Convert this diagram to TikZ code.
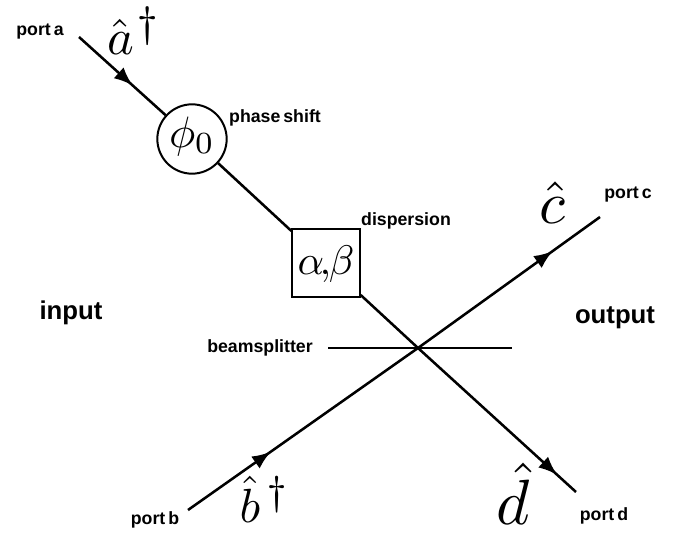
\documentclass[tikz,border=0pt]{standalone}
\usepackage{amsmath, amssymb}
\usepackage{fontspec}
\setsansfont{Liberation Sans}
\newfontfamily\portsans[WordSpace=0.6]{Liberation Sans}
\usetikzlibrary{arrows.meta, decorations.markings}
\newcommand{\bigdag}{\scalebox{1.2}{$\scriptstyle\dagger$}}
\tikzset{
  beam/.style={line width=1.9pt},
  beamin/.style={beam,postaction={decorate},decoration={markings,mark=at position #1 with {\arrow{Latex[length=14pt,width=11pt]}}}},
  portlabel/.style={font=\portsans\bfseries\fontsize{13.3}{15}\selectfont,inner sep=0pt},
  sidelabel/.style={font=\sffamily\bfseries\fontsize{19.3}{22}\selectfont,inner sep=0pt},
  symlabel/.style={inner sep=0pt,transform shape,scale=#1},
}
\begin{document}
\begin{tikzpicture}[x=0.75pt,y=-0.75pt]
  \useasboundingbox (0,0) rectangle (681,535);
  % Beam ends
  \coordinate (ina) at (79,37);
  \coordinate (inb) at (188,510);
  \coordinate (outc) at (600,217);
  \coordinate (outd) at (576,492);
  \coordinate (bsl) at (328,348);
  \coordinate (bsr) at (512,348);
  \coordinate (cross) at (418,348);
  \node[draw,circle,line width=1.5pt,minimum size=52pt,inner sep=0pt] (phase) at (192,139) {};
  \node[draw,rectangle,line width=1.5pt,minimum size=50.5pt,inner sep=0pt] (disp) at (326,263) {};
  % Beams
  \draw[beamin=0.62] (ina) -- (phase);
  \draw[beam] (phase) -- (disp);
  \draw[beam] (disp) -- (cross);
  \draw[beamin=0.88] (cross) -- (outd);
  \draw[beamin=0.36] (inb) -- (cross);
  \draw[beamin=0.74] (cross) -- (outc);
  \draw[beam] (bsl) -- (bsr);
  % Boxes
  \node[symlabel=3.3] (phi) at (192,136) {$\phi_0$};
  \node[symlabel=3.1] (ab) at (326,264) {$\alpha{\mkern-2mu,\mkern-1mu}\beta$};
  % Labels
  \node[portlabel] (porta) at (40,32) {port a};
  \node[portlabel] (portb) at (155,520) {port b};
  \node[portlabel] (portc) at (628,195) {port c};
  \node[portlabel] (portd) at (604,516) {port d};
  \node[portlabel] (shift) at (275,118) {phase shift};
  \node[portlabel] (dispersion) at (406,221) {dispersion};
  \node[portlabel] (splitter) at (260,348) {beamsplitter};
  \node[sidelabel] (input) at (71,313) {input};
  \node[sidelabel] (output) at (615,318) {output};
  \node[symlabel=3.8] (adag) at (134,31) {$\hat{a}^{\mkern1mu\bigdag}$};
  \node[symlabel=3.6] (bdag) at (265,499) {$\hat{b}^{\,\bigdag}$};
  \node[symlabel=4.5] (chat) at (552,203) {$\hat{c}$};
  \node[symlabel=4.8] (dhat) at (513,494) {$\hat{d}$};
\end{tikzpicture}
\end{document}
